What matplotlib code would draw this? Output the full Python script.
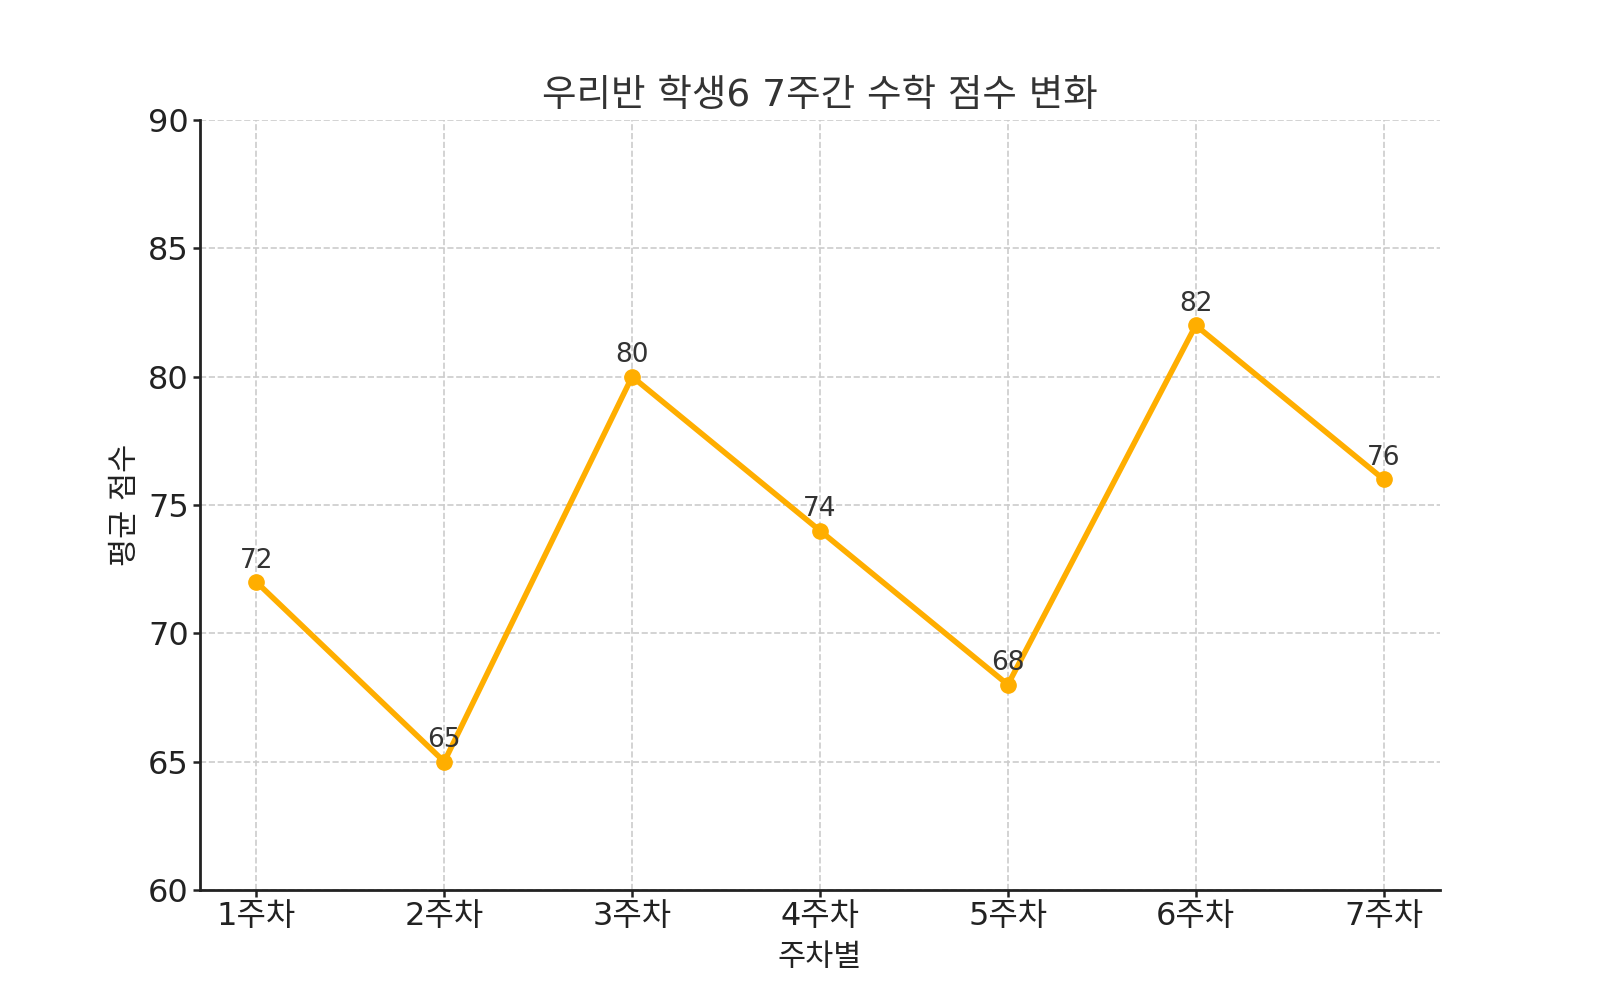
import matplotlib
matplotlib.use("Agg")
import matplotlib.pyplot as plt

plt.rcParams['font.family'] = ['DejaVu Sans', 'Noto Sans CJK KR']

weeks = ["1주차", "2주차", "3주차", "4주차", "5주차", "6주차", "7주차"]
scores = [72, 65, 80, 74, 68, 82, 76]
title = "우리반 학생6 7주간 수학 점수 변화"
xlabel = "주차별"
ylabel = "평균 점수"

fig, ax = plt.subplots(figsize=(16, 10), dpi=100)
x = list(range(len(weeks)))
ax.plot(x, scores, color="#FFAE00", linewidth=4, marker="o", markersize=11, zorder=3)
for xi, v in zip(x, scores):
    ax.annotate(str(v), (xi, v), textcoords="offset points", xytext=(0, 6),
                ha="center", va="bottom", fontsize=19, color="#333333")

ax.set_xticks(x)
ax.set_xticklabels(weeks)
ax.set_ylim(60, 90)
ax.set_xlim(-0.3, 6.3)
ax.set_yticks([60, 65, 70, 75, 80, 85, 90])
ax.tick_params(axis="both", labelsize=23, colors="#222222", width=1.8, length=5, pad=3)
ax.grid(True, linestyle="--", color="#cccccc", linewidth=1.2)
ax.set_axisbelow(True)
for s in ["top", "right"]:
    ax.spines[s].set_visible(False)
for s in ["left", "bottom"]:
    ax.spines[s].set_linewidth(2)
    ax.spines[s].set_color("#222222")
ax.set_title(title, fontsize=27, color="#333333", pad=10)
ax.set_xlabel(xlabel, fontsize=22, color="#222222", labelpad=8)
ax.set_ylabel(ylabel, fontsize=22, color="#222222", labelpad=6)
fig.subplots_adjust(left=0.125, right=0.9, top=0.88, bottom=0.11)
fig.savefig("out.png")
